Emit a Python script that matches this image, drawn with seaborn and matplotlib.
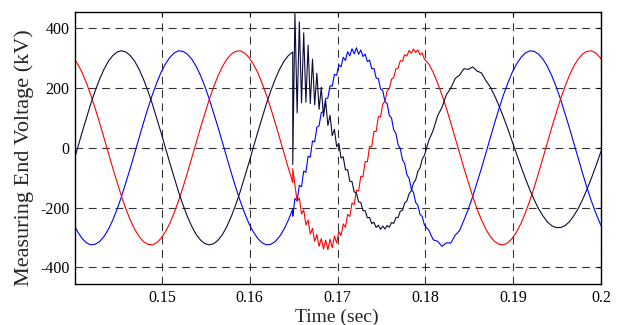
import matplotlib
matplotlib.use("Agg")
import matplotlib.pyplot as plt
import numpy as np
import pandas as pd
import seaborn as sns

# ---------------- data (kV) ----------------
# sample times (s)
t_pre = [round(0.1399 + 0.0005 * k, 5) for k in range(51)]      # up to fault instant 0.1649
t_fault = [0.1649]
t_post = [round(0.16515 + 0.00025 * j, 5) for j in range(60)]   # transient window
t_tail = [round(0.1804 + 0.0005 * m, 5) for m in range(41)]

black_pre = [-51, 0, 51, 100, 148, 191, 230, 263, 290, 309, 321, 325, 321, 309, 290,
             263, 230, 191, 148, 100, 51, 0, -51, -100, -148, -191, -230, -263, -290,
             -309, -321, -325, -321, -309, -290, -263, -230, -191, -148, -100, -51, 0,
             51, 100, 148, 191, 230, 263, 290, 309, 321]
blue_pre = [-253, -281, -303, -318, -325, -323, -314, -297, -273, -242, -205, -163,
            -116, -68, -17, 34, 84, 132, 177, 217, 253, 281, 303, 318, 325, 323, 314,
            297, 273, 242, 205, 163, 116, 68, 17, -34, -84, -132, -177, -217, -253,
            -281, -303, -318, -325, -323, -314, -297, -273, -242, -205]
red_pre = [303, 281, 253, 217, 177, 132, 84, 34, -17, -68, -116, -163, -205, -242,
           -273, -297, -314, -323, -325, -318, -303, -281, -253, -217, -177, -132, -84,
           -34, 17, 68, 116, 163, 205, 242, 273, 297, 314, 323, 325, 318, 303, 281,
           253, 217, 177, 132, 84, 34, -17, -68, -116]

black_fault = [-56]
blue_fault = [-229]
red_fault = [-70]

black_post = [452, 117, 422, 151, 385, 153, 344, 148, 297, 144, 250, 129, 203, 105,
              157, 75, 109, 41, 62, 4, 15, -34, -30, -74, -73, -112, -113, -148,
              -150, -181, -183, -210, -211, -234, -233, -254, -249, -267, -259, -273,
              -262, -272, -260, -266, -250, -253, -234, -233, -212, -209, -185, -178,
              -154, -144, -118, -107, -79, -67, -38, -25]
blue_post = [-170, -177, -126, -130, -78, -82, -28, -31, 23, 20, 69, 74, 118, 122,
             165, 167, 208, 207, 246, 243, 278, 271, 303, 293, 322, 308, 332, 315,
             335, 313, 328, 306, 314, 289, 294, 265, 266, 234, 232, 197, 192, 155,
             148, 108, 100, 60, 48, 11, -3, -40, -53, -90, -102, -138, -149, -183,
             -192, -223, -230, -259]
red_post = [-124, -179, -168, -221, -208, -258, -242, -289, -270, -313, -290, -330,
            -304, -339, -309, -341, -306, -334, -296, -319, -280, -294, -255, -266,
            -223, -230, -185, -190, -142, -145, -95, -97, -46, -47, 4, 4, 55, 55,
            105, 103, 146, 157, 190, 199, 230, 236, 264, 267, 292, 291, 312, 308,
            326, 317, 331, 319, 328, 312, 318, 297]

black_tail = [25, 59, 107, 136, 178, 200, 232, 244, 265, 263, 271, 257, 251, 225, 204,
              174, 140, 103, 63, 21, -21, -63, -103, -140, -174, -204, -228, -248,
              -261, -267, -267, -261, -248, -228, -204, -174, -140, -103, -63, -21, 21]
blue_tail = [-276, -308, -313, -330, -318, -319, -293, -277, -242, -205, -163, -116,
             -68, -17, 34, 84, 132, 177, 217, 253, 281, 303, 318, 325, 323, 314, 297,
             273, 242, 205, 163, 116, 68, 17, -34, -84, -132, -177, -217, -253, -281]
red_tail = [281, 253, 217, 177, 132, 84, 34, -17, -68, -116, -163, -205, -242, -273,
            -297, -314, -323, -325, -318, -303, -281, -253, -217, -177, -132, -84, -34,
            17, 68, 116, 163, 205, 242, 273, 297, 314, 323, 325, 318, 303, 281]

phase_names = ["Phase B", "Phase C", "Phase A"]
phase_colors = ["#0000ff", "#ff0000", "#0b0b36"]

x_ticks = [0.15, 0.16, 0.17, 0.18, 0.19, 0.2]
x_tick_labels = ["0.15", "0.16", "0.17", "0.18", "0.19", "0.2"]
y_ticks = [-400, -200, 0, 200, 400]
y_tick_labels = ["-400", "-200", "0", "200", "400"]

# ---------------- build long table ----------------
time_all = t_pre + t_fault + t_post + t_tail
series = {
    "Phase B": blue_pre + blue_fault + blue_post + blue_tail,
    "Phase C": red_pre + red_fault + red_post + red_tail,
    "Phase A": black_pre + black_fault + black_post + black_tail,
}
frames = []
for name in phase_names:
    frames.append(pd.DataFrame({"t": time_all, "v": series[name], "phase": name}))
df = pd.concat(frames, ignore_index=True)

# ---------------- plot ----------------
sns.set_style("white")
plt.rcParams["font.family"] = ["Liberation Serif", "DejaVu Serif"]
plt.rcParams["lines.scale_dashes"] = True

fig = plt.figure(figsize=(6.24, 3.25), dpi=100)
ax = fig.add_axes([0.1202, 0.1262, 0.963 - 0.1202, 0.964 - 0.1262])

sns.lineplot(data=df, x="t", y="v", hue="phase", hue_order=phase_names,
             palette=dict(zip(phase_names, phase_colors)), estimator=None,
             sort=False, units="phase", linewidth=0.8, legend=False, ax=ax)

ax.set_xlim(0.1401, 0.2)
ax.set_ylim(-456, 456)
ax.set_xticks(x_ticks)
ax.set_xticklabels(x_tick_labels)
ax.set_yticks(y_ticks)
ax.set_yticklabels(y_tick_labels)
ax.grid(True, color="black", linestyle=(0, (7, 5)), linewidth=0.8, alpha=0.8)
ax.tick_params(direction="in", length=3, width=0.8, top=True, right=True,
               labelsize=11.5, pad=4, colors="black")
for s in ax.spines.values():
    s.set_visible(True)
    s.set_color("black")
    s.set_linewidth(1.0)

ax.set_xlabel("Time (sec)", fontsize=14)
ax.set_ylabel("Measuring End Voltage (kV)", fontsize=16)
ax.xaxis.set_label_coords(0.497, -0.092)
ax.yaxis.set_label_coords(-0.078, 0.465)

fig.savefig("out.png", dpi=100)
